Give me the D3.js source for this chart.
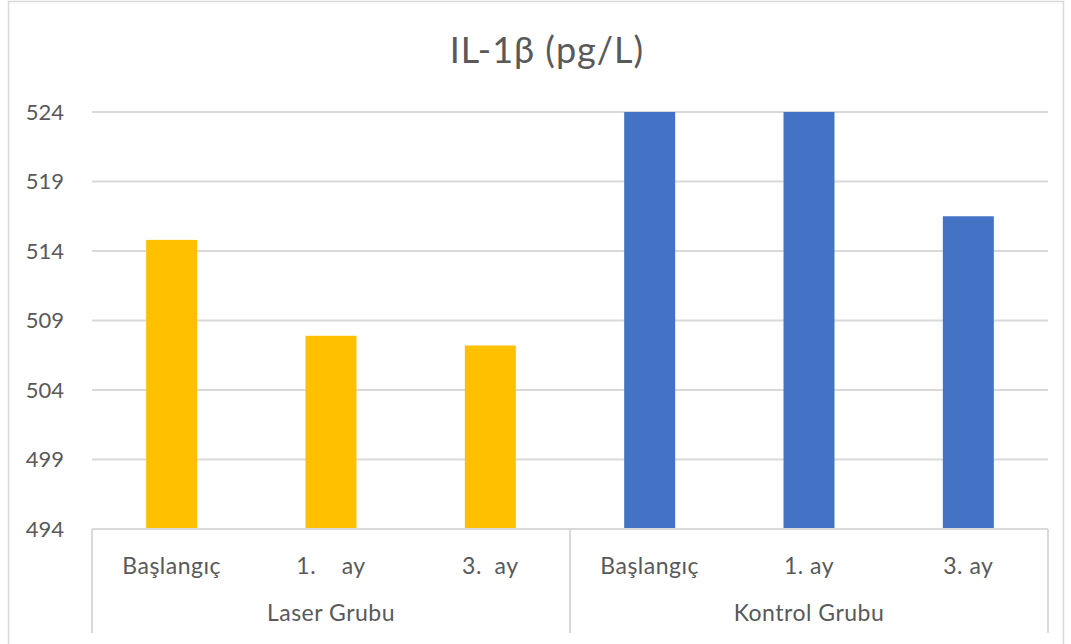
<html>
<head>
<title>IL-1β (pg/L)</title>
<script src="https://d3js.org/d3.v7.min.js"></script>
<style>
  body { margin: 0; background: #fff; }
  svg text { font-family: Lato, "Open Sans", sans-serif; fill: #595959; }
</style>
</head>
<body>
<div id="chart"></div>
<script type="text/javascript">
    // values
    var groups = ["Laser Grubu", "Kontrol Grubu"];
    var categories = ["Başlangıç", "1.    ay", "3.  ay", "Başlangıç", "1. ay", "3. ay"];
    var categoryGroup = [0, 0, 0, 1, 1, 1];
    var values = [514.8, 507.9, 507.2, 524, 524, 516.5];
    var yTicks = [494, 499, 504, 509, 514, 519, 524];
    var groupColors = ["#FFC000", "#4472C4"];

    var W = 1071, H = 644;
    var margin = {top: 112, right: 23, bottom: 115, left: 92};
    var width = W - margin.left - margin.right;
    var plotBottom = 529 - margin.top;

    var svg = d3.select("#chart").append("svg")
        .attr("width", W)
        .attr("height", H);

    // outer chart border
    svg.append("rect")
        .attr("x", 8.5).attr("y", 1.5)
        .attr("width", 1055).attr("height", 660)
        .attr("fill", "none")
        .attr("stroke", "#D9D9D9")
        .attr("stroke-width", 1.5);

    svg.append("text")
        .attr("x", 547)
        .attr("y", 63)
        .attr("text-anchor", "middle")
        .style("font-size", "36px")
        .style("letter-spacing", "1px")
        .text("IL-1β (pg/L)");

    var g = svg.append("g")
        .attr("transform", "translate(" + margin.left + "," + margin.top + ")");

    var x = d3.scaleBand()
        .domain(d3.range(categories.length))
        .range([0, width])
        .paddingInner(0.68)
        .paddingOuter(0.34);

    var y = d3.scaleLinear()
        .domain([494, 524])
        .range([plotBottom, 0]);

    // gridlines
    g.selectAll("line.grid")
        .data(yTicks)
        .enter()
        .append("line")
        .attr("class", "grid")
        .attr("x1", 0).attr("x2", width)
        .attr("y1", function(d) { return y(d); })
        .attr("y2", function(d) { return y(d); })
        .attr("stroke", "#D9D9D9")
        .attr("stroke-width", 2);

    // y axis labels
    var yAxis = d3.axisLeft(y).tickValues(yTicks).tickSize(0).tickPadding(28);
    var ya = g.append("g").call(yAxis);
    ya.select(".domain").remove();
    ya.selectAll("text")
        .style("font-size", "22px")
        .style("font-family", "Lato, sans-serif")
        .style("fill", "#595959");

    // bars
    g.selectAll("rect.bar")
        .data(values)
        .enter()
        .append("rect")
        .attr("class", "bar")
        .attr("x", function(d, i) { return x(i); })
        .attr("width", x.bandwidth())
        .attr("y", function(d) { return y(d); })
        .attr("height", function(d) { return y(494) - y(d); })
        .attr("fill", function(d, i) { return groupColors[categoryGroup[i]]; });

    // category axis lines
    var step = width / categories.length;
    var sepY2 = 633 - margin.top;
    g.append("line")
        .attr("x1", 0).attr("x2", width)
        .attr("y1", plotBottom).attr("y2", plotBottom)
        .attr("stroke", "#D9D9D9").attr("stroke-width", 2);
    [0, 3, 6].forEach(function(k) {
        g.append("line")
            .attr("x1", k * step).attr("x2", k * step)
            .attr("y1", plotBottom).attr("y2", sepY2)
            .attr("stroke", "#D9D9D9").attr("stroke-width", 2);
    });

    // category labels
    g.selectAll("text.cat")
        .data(categories)
        .enter()
        .append("text")
        .attr("class", "cat")
        .attr("x", function(d, i) { return x(i) + x.bandwidth() / 2; })
        .attr("y", 574 - margin.top)
        .attr("text-anchor", "middle")
        .style("font-size", "23px")
        .style("letter-spacing", "0.5px")
        .style("white-space", "pre")
        .text(function(d) { return d; });

    // group labels
    g.selectAll("text.grp")
        .data(groups)
        .enter()
        .append("text")
        .attr("class", "grp")
        .attr("x", function(d, i) { return (i * 3 + 1.5) * step; })
        .attr("y", 621 - margin.top)
        .attr("text-anchor", "middle")
        .style("font-size", "23px")
        .style("letter-spacing", "0.5px")
        .text(function(d) { return d; });
</script>
</body>
</html>
